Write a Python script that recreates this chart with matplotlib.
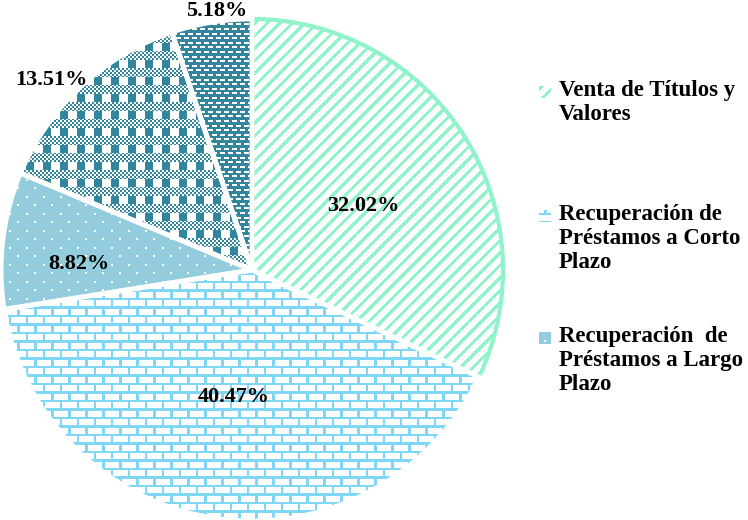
import matplotlib.pyplot as plt
import numpy as np
from matplotlib.colors import to_rgb
from matplotlib.patches import Rectangle

# datos
valores = [32.02, 40.47, 8.82, 13.51, 5.18]
leyenda = ['Venta de Títulos y\nValores',
           'Recuperación de\nPréstamos a Corto\nPlazo',
           'Recuperación  de\nPréstamos a Largo\nPlazo']

W, H = 748, 520
verde = '#91F3C9'
celeste = '#80D7F5'
azul_claro = '#93CDDD'
azul_osc = '#31859C'
blanco = '#FFFFFF'

fig = plt.figure(figsize=(W / 100, H / 100), dpi=100)
ax = fig.add_axes([0, 0, 1, 1])

# tramas (en pixeles, fila 0 arriba)
yy, xx = np.mgrid[0:H, 0:W].astype(float)


def textura(fondo, tinta, mascara):
    img = np.empty((H, W, 3))
    img[:] = to_rgb(fondo)
    img[mascara] = to_rgb(tinta)
    return img


p = 8.5
fila = yy // p
diag = ((xx + yy) % 12.5) < 4.5
ladrillo = ((yy % p) < 2.5) | (((xx + (fila % 2) * p) % (2 * p)) < 2.5)
puntos = ((yy % p) < 2) & (((xx + (fila % 2) * p) % (2 * p)) < 2)
banda = (yy % (2 * p)) < p
cuadros = ((xx // 2 + yy // 2) % 2) == 0
bloques = (xx % (2 * p)) < p
escoces = (banda & cuadros) | (~banda & bloques)
fila5 = yy // 4.6
rayas = ((yy % 4.6) < 2) & (((xx + (fila5 % 2) * 4) % 8) < 5)

texturas = [textura(blanco, verde, diag),
            textura(blanco, celeste, ladrillo),
            textura(azul_claro, blanco, puntos),
            textura(azul_osc, blanco, escoces),
            textura(azul_osc, blanco, rayas)]

cx, cy, r = 252, H - 270, 251
explode = [0.02, 0, 0, 0, 0.05]
wedges, _ = ax.pie(valores, startangle=90, counterclock=False,
                   center=(cx, cy), radius=r, explode=explode,
                   wedgeprops=dict(facecolor='none', edgecolor='white',
                                   linewidth=3.5, zorder=2))
wedges[0].set_edgecolor(verde)
wedges[0].set_linewidth(3)

for cuna, img in zip(wedges, texturas):
    im = ax.imshow(img, extent=(0, W, 0, H), origin='upper',
                   interpolation='nearest', zorder=1)
    im.set_clip_path(cuna)

# etiquetas de porcentaje
fuente = dict(family=['Liberation Serif', 'DejaVu Serif'], fontweight='bold')
dist = [0.51, 0.51, 0.69, 1.10, 1.04]
dang = [-2.6, 0, 5, 3.6, -1.6]
for cuna, v, d, da in zip(wedges, valores, dist, dang):
    ang = np.deg2rad((cuna.theta1 + cuna.theta2) / 2 + da)
    ax.text(cx + d * r * np.cos(ang), cy + d * r * np.sin(ang), f'{v:.2f}%',
            ha='center', va='center', fontsize=16, zorder=3, **fuente)

# leyenda
ley_y = [80, 204, 326]
for texto, img, y0 in zip(leyenda, texturas, ley_y):
    caja = Rectangle((539, H - y0 - 18), 12, 12, facecolor='none',
                     edgecolor='none', zorder=2)
    ax.add_patch(caja)
    im = ax.imshow(img, extent=(0, W, 0, H), origin='upper',
                   interpolation='nearest', zorder=1)
    im.set_clip_path(caja)
    ax.text(559, H - y0, texto, ha='left', va='top', fontsize=16.5,
            linespacing=1.2, zorder=3, **fuente)

ax.set_xlim(0, W)
ax.set_ylim(0, H)
ax.set_aspect('equal')
ax.axis('off')

fig.savefig('out.png', dpi=100)
